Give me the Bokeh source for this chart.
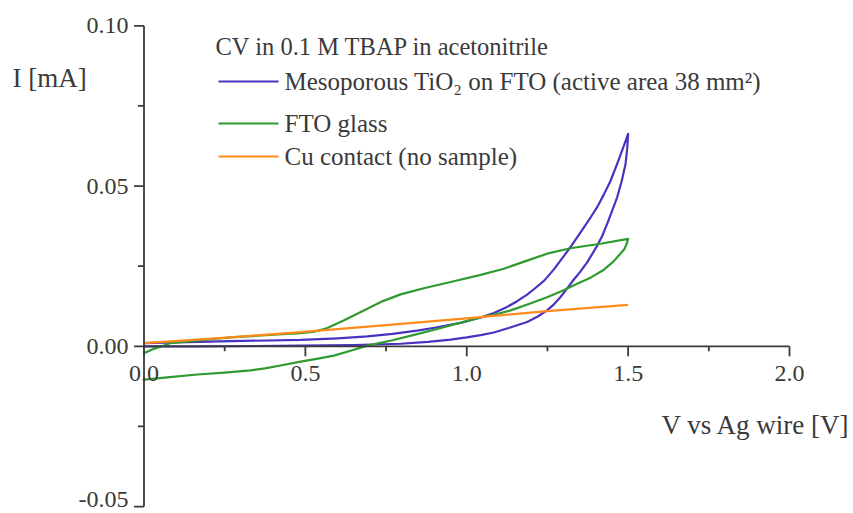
import numpy as np
from bokeh.plotting import figure
from bokeh.models import Range1d
from bokeh.core.properties import value
from bokeh.embed import file_html
from bokeh.resources import INLINE

# ---------------- data ----------------
# Mesoporous TiO2 on FTO: forward scan then reverse scan
tio2_v = [0.0, 0.175, 0.35, 0.485, 0.65, 0.795, 0.88, 0.950, 1.00, 1.043, 1.084, 1.13, 1.187,
          1.22, 1.249, 1.27, 1.290, 1.31, 1.33, 1.352, 1.373, 1.39, 1.404, 1.42, 1.435, 1.45,
          1.466, 1.48, 1.492, 1.497, 1.500,
          1.483, 1.466, 1.445, 1.425, 1.404, 1.383, 1.363, 1.342, 1.321, 1.296, 1.270, 1.240,
          1.208, 1.187, 1.155, 1.125, 1.084, 1.043, 0.981, 0.90, 0.846, 0.77, 0.692, 0.60,
          0.485, 0.268, 0.0]
tio2_i = [0.0000, 0.0000, 0.0001, 0.0002, 0.0004, 0.0008, 0.0014, 0.0021, 0.0028, 0.0035, 0.0043,
          0.0057, 0.0076,
          0.0093, 0.0112, 0.0131, 0.0153, 0.0179, 0.0206, 0.0233, 0.0262, 0.0290, 0.0314, 0.0345,
          0.0382, 0.0422, 0.0465, 0.0515, 0.0569, 0.0615, 0.0663,
          0.0615, 0.0569, 0.0515, 0.0474, 0.0434, 0.0401, 0.0371, 0.0340, 0.0309, 0.0275, 0.0240,
          0.0205, 0.0178, 0.0161, 0.0140, 0.0123, 0.0104, 0.0090, 0.0073, 0.0058, 0.0049, 0.0039,
          0.0031, 0.0025, 0.0020, 0.0016, 0.0010]

# FTO glass
fto_v = [0.0, 0.03, 0.061, 0.082, 0.15, 0.268, 0.40, 0.485, 0.53, 0.568, 0.62, 0.692, 0.74, 0.795,
         0.87, 0.960, 1.04, 1.115, 1.18, 1.249, 1.321, 1.414, 1.500,
         1.495, 1.488, 1.476, 1.455, 1.425, 1.385, 1.342, 1.30, 1.249, 1.19, 1.136, 1.09, 1.043,
         0.981, 0.92, 0.846, 0.77, 0.692, 0.64, 0.588, 0.535, 0.485, 0.423, 0.375, 0.330, 0.25,
         0.165, 0.08, 0.0]
fto_i = [-0.0022, -0.0008, 0.0002, 0.0010, 0.0017, 0.0028, 0.0036, 0.0041, 0.0046, 0.0057, 0.0081,
         0.0117, 0.0141, 0.0162, 0.0182, 0.0203, 0.0222, 0.0242, 0.0265, 0.0289, 0.0306, 0.0320,
         0.0335,
         0.0318, 0.0303, 0.0289, 0.0265, 0.0239, 0.0215, 0.0195, 0.0175, 0.0153, 0.0131, 0.0112,
         0.0100, 0.0090, 0.0074, 0.0057, 0.0038, 0.0019, 0.0002, -0.0014, -0.0029, -0.0039,
         -0.0048, -0.0060, -0.0069, -0.0075, -0.0082, -0.0088, -0.0096, -0.0104]

# Cu contact (no sample)
cu_v = [0.0, 0.268, 0.485, 0.75, 1.0, 1.249, 1.500]
cu_i = [0.0010, 0.0028, 0.0044, 0.0066, 0.0087, 0.0110, 0.0129]

series_names = ["Mesoporous TiO\u2082 on FTO (active area 38 mm\u00b2)",
                "FTO glass",
                "Cu contact (no sample)"]
series_colors = ["#4a32c0", "#2f9a2f", "#ff8a1c"]
legend_title = "CV in 0.1 M TBAP in acetonitrile"

x_ticks = [0.0, 0.5, 1.0, 1.5, 2.0]
x_tick_labels = ["0.0", "0.5", "1.0", "1.5", "2.0"]
x_minor = [0.25, 0.75, 1.25, 1.75]
y_ticks = [-0.05, 0.0, 0.05, 0.10]
y_tick_labels = ["-0.05", "0.00", "0.05", "0.10"]
y_minor = [-0.025, 0.025, 0.075]
x_title = "V vs Ag wire [V]"
y_title = "I [mA]"

# ---------------- layout ----------------
W, H = 853, 513
X0_PX, X_SCALE = 143.5, 322.75
Y0_PX, Y_SCALE = 345.8, 3205.0


def dx(px):
    return (px - X0_PX) / X_SCALE


def dy(py):
    return (Y0_PX - py) / Y_SCALE


FONT = value("Liberation Serif")
TEXT_COLOR = "#3a3a3a"
AXIS_COLOR = "#3a3a3a"

p = figure(width=W, height=H, output_backend="svg", toolbar_location=None,
           x_range=Range1d(dx(0), dx(W)), y_range=Range1d(dy(H), dy(0)),
           x_axis_type=None, y_axis_type=None, min_border=0)
p.grid.visible = False
p.outline_line_color = None
p.background_fill_color = "white"
p.border_fill_color = "white"

# curves
p.line(tio2_v, tio2_i, line_color=series_colors[0], line_width=2.2, line_join="round")
p.line(fto_v, fto_i, line_color=series_colors[1], line_width=2.2, line_join="round")
p.line(cu_v, cu_i, line_color=series_colors[2], line_width=2.2, line_join="round")

# axes (crossing at zero)
p.segment(x0=[x_ticks[0]], y0=[0], x1=[x_ticks[-1]], y1=[0], line_color=AXIS_COLOR, line_width=1.8)
p.segment(x0=[0], y0=[y_ticks[0]], x1=[0], y1=[y_ticks[-1]], line_color=AXIS_COLOR, line_width=1.8)

maj, mnr = 10, 5
p.segment(x0=x_ticks, y0=[0] * len(x_ticks), x1=x_ticks, y1=[-maj / Y_SCALE] * len(x_ticks),
          line_color=AXIS_COLOR, line_width=1.8)
p.segment(x0=x_minor, y0=[0] * len(x_minor), x1=x_minor, y1=[-mnr / Y_SCALE] * len(x_minor),
          line_color=AXIS_COLOR, line_width=1.8)
p.segment(x0=[0] * len(y_ticks), y0=y_ticks, x1=[-maj / X_SCALE] * len(y_ticks), y1=y_ticks,
          line_color=AXIS_COLOR, line_width=1.8)
p.segment(x0=[0] * len(y_minor), y0=y_minor, x1=[-(mnr + 1) / X_SCALE] * len(y_minor), y1=y_minor,
          line_color=AXIS_COLOR, line_width=1.8)

# tick labels
p.text(x=x_ticks, y=[dy(373)] * len(x_ticks), text=x_tick_labels, text_font=FONT,
       text_font_size="24px", text_color=TEXT_COLOR, text_align="center", text_baseline="middle")
y_label_pos = [max(t, dy(499)) for t in y_ticks]  # keep the lowest label inside the canvas
p.text(x=[dx(128)] * len(y_ticks), y=y_label_pos, text=y_tick_labels, text_font=FONT,
       text_font_size="24px", text_color=TEXT_COLOR, text_align="right", text_baseline="middle")

# axis titles
p.text(x=[dx(12)], y=[dy(77)], text=[y_title], text_font=FONT, text_font_size="27px",
       text_color=TEXT_COLOR, text_align="left", text_baseline="middle")
p.text(x=[dx(850)], y=[dy(424)], text=[x_title], text_font=FONT, text_font_size="27px",
       text_color=TEXT_COLOR, text_align="right", text_baseline="middle")

# legend (manual)
p.text(x=[dx(215)], y=[dy(46)], text=[legend_title], text_font=FONT, text_font_size="24.5px",
       text_color=TEXT_COLOR, text_align="left", text_baseline="middle")
row_py = [81, 123, 156]
p.segment(x0=[dx(218)] * 3, y0=[dy(r) for r in row_py], x1=[dx(278)] * 3, y1=[dy(r) for r in row_py],
          line_color=series_colors, line_width=2.2)
p.text(x=[dx(284)] * 3, y=[dy(r) for r in row_py], text=series_names, text_font=FONT,
       text_font_size="25px", text_color=TEXT_COLOR, text_align="left", text_baseline="middle")

open("out.html", "w").write(file_html(p, INLINE))
